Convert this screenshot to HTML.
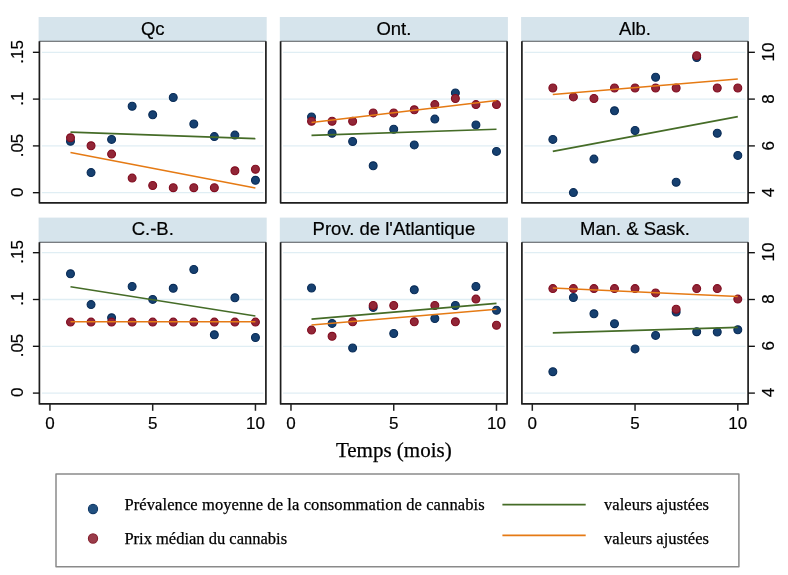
<!DOCTYPE html><html><head><meta charset="utf-8"><style>html,body{margin:0;padding:0;background:#fff;overflow:hidden;width:788px;height:575px}svg{display:block;will-change:transform}</style></head><body>
<svg width="788" height="575" viewBox="0 0 788 575">
<rect x="0" y="0" width="788" height="575" fill="#fff"/>
<rect x="38.6" y="17.0" width="228.1" height="24.2" fill="#d6e4ec"/>
<text x="152.7" y="34.6" font-family="Liberation Sans, sans-serif" font-size="18.5" stroke="#000" stroke-width="0.2" text-anchor="middle" fill="#000">Qc</text>
<line x1="41.9" x2="263.4" y1="52.3" y2="52.3" stroke="#e0eef4" stroke-width="1.3"/>
<line x1="41.9" x2="263.4" y1="99.1" y2="99.1" stroke="#e0eef4" stroke-width="1.3"/>
<line x1="41.9" x2="263.4" y1="145.9" y2="145.9" stroke="#e0eef4" stroke-width="1.3"/>
<line x1="41.9" x2="263.4" y1="192.7" y2="192.7" stroke="#e0eef4" stroke-width="1.3"/>
<circle cx="70.50" cy="141.2" r="3.95" fill="#164070" stroke="#092b56" stroke-width="1.1"/>
<circle cx="91.05" cy="172.6" r="3.95" fill="#164070" stroke="#092b56" stroke-width="1.1"/>
<circle cx="111.60" cy="139.4" r="3.95" fill="#164070" stroke="#092b56" stroke-width="1.1"/>
<circle cx="132.15" cy="106.2" r="3.95" fill="#164070" stroke="#092b56" stroke-width="1.1"/>
<circle cx="152.70" cy="114.8" r="3.95" fill="#164070" stroke="#092b56" stroke-width="1.1"/>
<circle cx="173.25" cy="97.5" r="3.95" fill="#164070" stroke="#092b56" stroke-width="1.1"/>
<circle cx="193.80" cy="124.0" r="3.95" fill="#164070" stroke="#092b56" stroke-width="1.1"/>
<circle cx="214.35" cy="136.6" r="3.95" fill="#164070" stroke="#092b56" stroke-width="1.1"/>
<circle cx="234.90" cy="135.1" r="3.95" fill="#164070" stroke="#092b56" stroke-width="1.1"/>
<circle cx="255.45" cy="180.3" r="3.95" fill="#164070" stroke="#092b56" stroke-width="1.1"/>
<circle cx="70.50" cy="137.8" r="3.95" fill="#922637" stroke="#800c1f" stroke-width="1.1"/>
<circle cx="91.05" cy="145.8" r="3.95" fill="#922637" stroke="#800c1f" stroke-width="1.1"/>
<circle cx="111.60" cy="154.1" r="3.95" fill="#922637" stroke="#800c1f" stroke-width="1.1"/>
<circle cx="132.15" cy="178.1" r="3.95" fill="#922637" stroke="#800c1f" stroke-width="1.1"/>
<circle cx="152.70" cy="185.5" r="3.95" fill="#922637" stroke="#800c1f" stroke-width="1.1"/>
<circle cx="173.25" cy="187.7" r="3.95" fill="#922637" stroke="#800c1f" stroke-width="1.1"/>
<circle cx="193.80" cy="187.7" r="3.95" fill="#922637" stroke="#800c1f" stroke-width="1.1"/>
<circle cx="214.35" cy="187.7" r="3.95" fill="#922637" stroke="#800c1f" stroke-width="1.1"/>
<circle cx="234.90" cy="170.8" r="3.95" fill="#922637" stroke="#800c1f" stroke-width="1.1"/>
<circle cx="255.45" cy="169.2" r="3.95" fill="#922637" stroke="#800c1f" stroke-width="1.1"/>
<line x1="70.5" y1="132.1" x2="255.4" y2="138.6" stroke="#456c27" stroke-width="1.65"/>
<line x1="70.5" y1="152.6" x2="255.4" y2="188.0" stroke="#e57a14" stroke-width="1.5"/>
<line x1="39.40" x2="265.90" y1="41.20" y2="41.20" stroke="#505458" stroke-width="1.1"/>
<path d="M39.40 41.20 L39.40 202.80 L265.90 202.80 L265.90 41.20" fill="none" stroke="#1e1e1e" stroke-width="1.7" stroke-linejoin="round"/>
<line x1="32.9" x2="39.4" y1="52.3" y2="52.3" stroke="#111" stroke-width="1.35"/>
<text transform="translate(22.8 51.9) rotate(-90)" font-family="Liberation Sans, sans-serif" font-size="17" stroke="#000" stroke-width="0.2" text-anchor="middle" fill="#000">.15</text>
<line x1="32.9" x2="39.4" y1="99.1" y2="99.1" stroke="#111" stroke-width="1.35"/>
<text transform="translate(22.8 98.7) rotate(-90)" font-family="Liberation Sans, sans-serif" font-size="17" stroke="#000" stroke-width="0.2" text-anchor="middle" fill="#000">.1</text>
<line x1="32.9" x2="39.4" y1="145.9" y2="145.9" stroke="#111" stroke-width="1.35"/>
<text transform="translate(22.8 145.5) rotate(-90)" font-family="Liberation Sans, sans-serif" font-size="17" stroke="#000" stroke-width="0.2" text-anchor="middle" fill="#000">.05</text>
<line x1="32.9" x2="39.4" y1="192.7" y2="192.7" stroke="#111" stroke-width="1.35"/>
<text transform="translate(22.8 192.3) rotate(-90)" font-family="Liberation Sans, sans-serif" font-size="17" stroke="#000" stroke-width="0.2" text-anchor="middle" fill="#000">0</text>
<rect x="279.8" y="17.0" width="228.1" height="24.2" fill="#d6e4ec"/>
<text x="393.9" y="34.6" font-family="Liberation Sans, sans-serif" font-size="18.5" stroke="#000" stroke-width="0.2" text-anchor="middle" fill="#000">Ont.</text>
<line x1="283.1" x2="504.6" y1="52.3" y2="52.3" stroke="#e0eef4" stroke-width="1.3"/>
<line x1="283.1" x2="504.6" y1="99.1" y2="99.1" stroke="#e0eef4" stroke-width="1.3"/>
<line x1="283.1" x2="504.6" y1="145.9" y2="145.9" stroke="#e0eef4" stroke-width="1.3"/>
<line x1="283.1" x2="504.6" y1="192.7" y2="192.7" stroke="#e0eef4" stroke-width="1.3"/>
<circle cx="311.53" cy="116.9" r="3.95" fill="#164070" stroke="#092b56" stroke-width="1.1"/>
<circle cx="332.08" cy="133.2" r="3.95" fill="#164070" stroke="#092b56" stroke-width="1.1"/>
<circle cx="352.63" cy="141.5" r="3.95" fill="#164070" stroke="#092b56" stroke-width="1.1"/>
<circle cx="373.18" cy="165.8" r="3.95" fill="#164070" stroke="#092b56" stroke-width="1.1"/>
<circle cx="393.73" cy="129.2" r="3.95" fill="#164070" stroke="#092b56" stroke-width="1.1"/>
<circle cx="414.28" cy="144.9" r="3.95" fill="#164070" stroke="#092b56" stroke-width="1.1"/>
<circle cx="434.83" cy="119.1" r="3.95" fill="#164070" stroke="#092b56" stroke-width="1.1"/>
<circle cx="455.38" cy="92.9" r="3.95" fill="#164070" stroke="#092b56" stroke-width="1.1"/>
<circle cx="475.93" cy="124.9" r="3.95" fill="#164070" stroke="#092b56" stroke-width="1.1"/>
<circle cx="496.48" cy="151.4" r="3.95" fill="#164070" stroke="#092b56" stroke-width="1.1"/>
<circle cx="311.53" cy="121.2" r="3.95" fill="#922637" stroke="#800c1f" stroke-width="1.1"/>
<circle cx="332.08" cy="121.2" r="3.95" fill="#922637" stroke="#800c1f" stroke-width="1.1"/>
<circle cx="352.63" cy="121.2" r="3.95" fill="#922637" stroke="#800c1f" stroke-width="1.1"/>
<circle cx="373.18" cy="112.9" r="3.95" fill="#922637" stroke="#800c1f" stroke-width="1.1"/>
<circle cx="393.73" cy="112.9" r="3.95" fill="#922637" stroke="#800c1f" stroke-width="1.1"/>
<circle cx="414.28" cy="109.8" r="3.95" fill="#922637" stroke="#800c1f" stroke-width="1.1"/>
<circle cx="434.83" cy="104.6" r="3.95" fill="#922637" stroke="#800c1f" stroke-width="1.1"/>
<circle cx="455.38" cy="98.5" r="3.95" fill="#922637" stroke="#800c1f" stroke-width="1.1"/>
<circle cx="475.93" cy="104.6" r="3.95" fill="#922637" stroke="#800c1f" stroke-width="1.1"/>
<circle cx="496.48" cy="104.6" r="3.95" fill="#922637" stroke="#800c1f" stroke-width="1.1"/>
<line x1="311.5" y1="135.4" x2="496.5" y2="129.2" stroke="#456c27" stroke-width="1.65"/>
<line x1="311.5" y1="122.4" x2="496.5" y2="100.4" stroke="#e57a14" stroke-width="1.5"/>
<line x1="280.60" x2="507.10" y1="41.20" y2="41.20" stroke="#505458" stroke-width="1.1"/>
<path d="M280.60 41.20 L280.60 202.80 L507.10 202.80 L507.10 41.20" fill="none" stroke="#1e1e1e" stroke-width="1.7" stroke-linejoin="round"/>
<rect x="521.1" y="17.0" width="227.8" height="24.2" fill="#d6e4ec"/>
<text x="635.0" y="34.6" font-family="Liberation Sans, sans-serif" font-size="18.5" stroke="#000" stroke-width="0.2" text-anchor="middle" fill="#000">Alb.</text>
<line x1="524.4" x2="745.6" y1="52.3" y2="52.3" stroke="#e0eef4" stroke-width="1.3"/>
<line x1="524.4" x2="745.6" y1="99.1" y2="99.1" stroke="#e0eef4" stroke-width="1.3"/>
<line x1="524.4" x2="745.6" y1="145.9" y2="145.9" stroke="#e0eef4" stroke-width="1.3"/>
<line x1="524.4" x2="745.6" y1="192.7" y2="192.7" stroke="#e0eef4" stroke-width="1.3"/>
<circle cx="552.85" cy="139.4" r="3.95" fill="#164070" stroke="#092b56" stroke-width="1.1"/>
<circle cx="573.40" cy="192.6" r="3.95" fill="#164070" stroke="#092b56" stroke-width="1.1"/>
<circle cx="593.95" cy="159.1" r="3.95" fill="#164070" stroke="#092b56" stroke-width="1.1"/>
<circle cx="614.50" cy="110.8" r="3.95" fill="#164070" stroke="#092b56" stroke-width="1.1"/>
<circle cx="635.05" cy="130.5" r="3.95" fill="#164070" stroke="#092b56" stroke-width="1.1"/>
<circle cx="655.60" cy="77.2" r="3.95" fill="#164070" stroke="#092b56" stroke-width="1.1"/>
<circle cx="676.15" cy="182.2" r="3.95" fill="#164070" stroke="#092b56" stroke-width="1.1"/>
<circle cx="696.70" cy="57.5" r="3.95" fill="#164070" stroke="#092b56" stroke-width="1.1"/>
<circle cx="717.25" cy="133.2" r="3.95" fill="#164070" stroke="#092b56" stroke-width="1.1"/>
<circle cx="737.80" cy="155.4" r="3.95" fill="#164070" stroke="#092b56" stroke-width="1.1"/>
<circle cx="552.85" cy="88.0" r="3.95" fill="#922637" stroke="#800c1f" stroke-width="1.1"/>
<circle cx="573.40" cy="96.9" r="3.95" fill="#922637" stroke="#800c1f" stroke-width="1.1"/>
<circle cx="593.95" cy="98.5" r="3.95" fill="#922637" stroke="#800c1f" stroke-width="1.1"/>
<circle cx="614.50" cy="88.0" r="3.95" fill="#922637" stroke="#800c1f" stroke-width="1.1"/>
<circle cx="635.05" cy="88.0" r="3.95" fill="#922637" stroke="#800c1f" stroke-width="1.1"/>
<circle cx="655.60" cy="88.0" r="3.95" fill="#922637" stroke="#800c1f" stroke-width="1.1"/>
<circle cx="676.15" cy="88.0" r="3.95" fill="#922637" stroke="#800c1f" stroke-width="1.1"/>
<circle cx="696.70" cy="55.7" r="3.95" fill="#922637" stroke="#800c1f" stroke-width="1.1"/>
<circle cx="717.25" cy="88.0" r="3.95" fill="#922637" stroke="#800c1f" stroke-width="1.1"/>
<circle cx="737.80" cy="88.0" r="3.95" fill="#922637" stroke="#800c1f" stroke-width="1.1"/>
<line x1="552.8" y1="151.4" x2="737.8" y2="116.6" stroke="#456c27" stroke-width="1.65"/>
<line x1="552.8" y1="94.5" x2="737.8" y2="79.1" stroke="#e57a14" stroke-width="1.5"/>
<line x1="521.90" x2="748.10" y1="41.20" y2="41.20" stroke="#505458" stroke-width="1.1"/>
<path d="M521.90 41.20 L521.90 202.80 L748.10 202.80 L748.10 41.20" fill="none" stroke="#1e1e1e" stroke-width="1.7" stroke-linejoin="round"/>
<line x1="748.1" x2="754.9" y1="52.3" y2="52.3" stroke="#111" stroke-width="1.35"/>
<text transform="translate(773.8 52.1) rotate(-90)" font-family="Liberation Sans, sans-serif" font-size="17" stroke="#000" stroke-width="0.2" text-anchor="middle" fill="#000">10</text>
<line x1="748.1" x2="754.9" y1="99.1" y2="99.1" stroke="#111" stroke-width="1.35"/>
<text transform="translate(773.8 98.9) rotate(-90)" font-family="Liberation Sans, sans-serif" font-size="17" stroke="#000" stroke-width="0.2" text-anchor="middle" fill="#000">8</text>
<line x1="748.1" x2="754.9" y1="145.9" y2="145.9" stroke="#111" stroke-width="1.35"/>
<text transform="translate(773.8 145.7) rotate(-90)" font-family="Liberation Sans, sans-serif" font-size="17" stroke="#000" stroke-width="0.2" text-anchor="middle" fill="#000">6</text>
<line x1="748.1" x2="754.9" y1="192.7" y2="192.7" stroke="#111" stroke-width="1.35"/>
<text transform="translate(773.8 192.5) rotate(-90)" font-family="Liberation Sans, sans-serif" font-size="17" stroke="#000" stroke-width="0.2" text-anchor="middle" fill="#000">4</text>
<rect x="38.6" y="217.6" width="228.1" height="24.7" fill="#d6e4ec"/>
<text x="152.7" y="235.2" font-family="Liberation Sans, sans-serif" font-size="18.5" stroke="#000" stroke-width="0.2" text-anchor="middle" fill="#000">C.-B.</text>
<line x1="41.9" x2="263.4" y1="252.7" y2="252.7" stroke="#e0eef4" stroke-width="1.3"/>
<line x1="41.9" x2="263.4" y1="299.5" y2="299.5" stroke="#e0eef4" stroke-width="1.3"/>
<line x1="41.9" x2="263.4" y1="346.3" y2="346.3" stroke="#e0eef4" stroke-width="1.3"/>
<line x1="41.9" x2="263.4" y1="393.1" y2="393.1" stroke="#e0eef4" stroke-width="1.3"/>
<circle cx="70.50" cy="273.8" r="3.95" fill="#164070" stroke="#092b56" stroke-width="1.1"/>
<circle cx="91.05" cy="304.6" r="3.95" fill="#164070" stroke="#092b56" stroke-width="1.1"/>
<circle cx="111.60" cy="317.8" r="3.95" fill="#164070" stroke="#092b56" stroke-width="1.1"/>
<circle cx="132.15" cy="286.5" r="3.95" fill="#164070" stroke="#092b56" stroke-width="1.1"/>
<circle cx="152.70" cy="299.4" r="3.95" fill="#164070" stroke="#092b56" stroke-width="1.1"/>
<circle cx="173.25" cy="288.3" r="3.95" fill="#164070" stroke="#092b56" stroke-width="1.1"/>
<circle cx="193.80" cy="269.5" r="3.95" fill="#164070" stroke="#092b56" stroke-width="1.1"/>
<circle cx="214.35" cy="334.8" r="3.95" fill="#164070" stroke="#092b56" stroke-width="1.1"/>
<circle cx="234.90" cy="297.8" r="3.95" fill="#164070" stroke="#092b56" stroke-width="1.1"/>
<circle cx="255.45" cy="337.5" r="3.95" fill="#164070" stroke="#092b56" stroke-width="1.1"/>
<circle cx="70.50" cy="322.1" r="3.95" fill="#922637" stroke="#800c1f" stroke-width="1.1"/>
<circle cx="91.05" cy="322.1" r="3.95" fill="#922637" stroke="#800c1f" stroke-width="1.1"/>
<circle cx="111.60" cy="322.1" r="3.95" fill="#922637" stroke="#800c1f" stroke-width="1.1"/>
<circle cx="132.15" cy="322.1" r="3.95" fill="#922637" stroke="#800c1f" stroke-width="1.1"/>
<circle cx="152.70" cy="322.1" r="3.95" fill="#922637" stroke="#800c1f" stroke-width="1.1"/>
<circle cx="173.25" cy="322.1" r="3.95" fill="#922637" stroke="#800c1f" stroke-width="1.1"/>
<circle cx="193.80" cy="322.1" r="3.95" fill="#922637" stroke="#800c1f" stroke-width="1.1"/>
<circle cx="214.35" cy="322.1" r="3.95" fill="#922637" stroke="#800c1f" stroke-width="1.1"/>
<circle cx="234.90" cy="322.1" r="3.95" fill="#922637" stroke="#800c1f" stroke-width="1.1"/>
<circle cx="255.45" cy="322.1" r="3.95" fill="#922637" stroke="#800c1f" stroke-width="1.1"/>
<line x1="70.5" y1="286.8" x2="255.4" y2="316.0" stroke="#456c27" stroke-width="1.65"/>
<line x1="70.5" y1="321.8" x2="255.4" y2="321.8" stroke="#e57a14" stroke-width="1.5"/>
<line x1="39.40" x2="265.90" y1="242.30" y2="242.30" stroke="#505458" stroke-width="1.1"/>
<path d="M39.40 242.30 L39.40 403.90 L265.90 403.90 L265.90 242.30" fill="none" stroke="#1e1e1e" stroke-width="1.7" stroke-linejoin="round"/>
<line x1="32.9" x2="39.4" y1="252.7" y2="252.7" stroke="#111" stroke-width="1.35"/>
<text transform="translate(22.8 251.9) rotate(-90)" font-family="Liberation Sans, sans-serif" font-size="17" stroke="#000" stroke-width="0.2" text-anchor="middle" fill="#000">.15</text>
<line x1="32.9" x2="39.4" y1="299.5" y2="299.5" stroke="#111" stroke-width="1.35"/>
<text transform="translate(22.8 298.7) rotate(-90)" font-family="Liberation Sans, sans-serif" font-size="17" stroke="#000" stroke-width="0.2" text-anchor="middle" fill="#000">.1</text>
<line x1="32.9" x2="39.4" y1="346.3" y2="346.3" stroke="#111" stroke-width="1.35"/>
<text transform="translate(22.8 345.5) rotate(-90)" font-family="Liberation Sans, sans-serif" font-size="17" stroke="#000" stroke-width="0.2" text-anchor="middle" fill="#000">.05</text>
<line x1="32.9" x2="39.4" y1="393.1" y2="393.1" stroke="#111" stroke-width="1.35"/>
<text transform="translate(22.8 392.3) rotate(-90)" font-family="Liberation Sans, sans-serif" font-size="17" stroke="#000" stroke-width="0.2" text-anchor="middle" fill="#000">0</text>
<line x1="49.95" x2="49.95" y1="403.9" y2="410.8" stroke="#222" stroke-width="1.5"/>
<text x="50.0" y="429.3" font-family="Liberation Sans, sans-serif" font-size="17" stroke="#000" stroke-width="0.2" text-anchor="middle" fill="#000">0</text>
<line x1="152.70" x2="152.70" y1="403.9" y2="410.8" stroke="#222" stroke-width="1.5"/>
<text x="152.7" y="429.3" font-family="Liberation Sans, sans-serif" font-size="17" stroke="#000" stroke-width="0.2" text-anchor="middle" fill="#000">5</text>
<line x1="255.45" x2="255.45" y1="403.9" y2="410.8" stroke="#222" stroke-width="1.5"/>
<text x="255.4" y="429.3" font-family="Liberation Sans, sans-serif" font-size="17" stroke="#000" stroke-width="0.2" text-anchor="middle" fill="#000">10</text>
<rect x="279.8" y="217.6" width="228.1" height="24.7" fill="#d6e4ec"/>
<text x="393.9" y="235.2" font-family="Liberation Sans, sans-serif" font-size="18.5" stroke="#000" stroke-width="0.2" text-anchor="middle" fill="#000">Prov. de l'Atlantique</text>
<line x1="283.1" x2="504.6" y1="252.7" y2="252.7" stroke="#e0eef4" stroke-width="1.3"/>
<line x1="283.1" x2="504.6" y1="299.5" y2="299.5" stroke="#e0eef4" stroke-width="1.3"/>
<line x1="283.1" x2="504.6" y1="346.3" y2="346.3" stroke="#e0eef4" stroke-width="1.3"/>
<line x1="283.1" x2="504.6" y1="393.1" y2="393.1" stroke="#e0eef4" stroke-width="1.3"/>
<circle cx="311.53" cy="288.0" r="3.95" fill="#164070" stroke="#092b56" stroke-width="1.1"/>
<circle cx="332.08" cy="323.4" r="3.95" fill="#164070" stroke="#092b56" stroke-width="1.1"/>
<circle cx="352.63" cy="348.0" r="3.95" fill="#164070" stroke="#092b56" stroke-width="1.1"/>
<circle cx="373.18" cy="307.4" r="3.95" fill="#164070" stroke="#092b56" stroke-width="1.1"/>
<circle cx="393.73" cy="333.5" r="3.95" fill="#164070" stroke="#092b56" stroke-width="1.1"/>
<circle cx="414.28" cy="289.8" r="3.95" fill="#164070" stroke="#092b56" stroke-width="1.1"/>
<circle cx="434.83" cy="318.5" r="3.95" fill="#164070" stroke="#092b56" stroke-width="1.1"/>
<circle cx="455.38" cy="305.5" r="3.95" fill="#164070" stroke="#092b56" stroke-width="1.1"/>
<circle cx="475.93" cy="286.5" r="3.95" fill="#164070" stroke="#092b56" stroke-width="1.1"/>
<circle cx="496.48" cy="310.2" r="3.95" fill="#164070" stroke="#092b56" stroke-width="1.1"/>
<circle cx="311.53" cy="330.1" r="3.95" fill="#922637" stroke="#800c1f" stroke-width="1.1"/>
<circle cx="332.08" cy="336.3" r="3.95" fill="#922637" stroke="#800c1f" stroke-width="1.1"/>
<circle cx="352.63" cy="321.8" r="3.95" fill="#922637" stroke="#800c1f" stroke-width="1.1"/>
<circle cx="373.18" cy="305.5" r="3.95" fill="#922637" stroke="#800c1f" stroke-width="1.1"/>
<circle cx="393.73" cy="305.5" r="3.95" fill="#922637" stroke="#800c1f" stroke-width="1.1"/>
<circle cx="414.28" cy="321.8" r="3.95" fill="#922637" stroke="#800c1f" stroke-width="1.1"/>
<circle cx="434.83" cy="305.5" r="3.95" fill="#922637" stroke="#800c1f" stroke-width="1.1"/>
<circle cx="455.38" cy="321.8" r="3.95" fill="#922637" stroke="#800c1f" stroke-width="1.1"/>
<circle cx="475.93" cy="299.1" r="3.95" fill="#922637" stroke="#800c1f" stroke-width="1.1"/>
<circle cx="496.48" cy="325.2" r="3.95" fill="#922637" stroke="#800c1f" stroke-width="1.1"/>
<line x1="311.5" y1="319.1" x2="496.5" y2="303.4" stroke="#456c27" stroke-width="1.65"/>
<line x1="311.5" y1="324.9" x2="496.5" y2="309.2" stroke="#e57a14" stroke-width="1.5"/>
<line x1="280.60" x2="507.10" y1="242.30" y2="242.30" stroke="#505458" stroke-width="1.1"/>
<path d="M280.60 242.30 L280.60 403.90 L507.10 403.90 L507.10 242.30" fill="none" stroke="#1e1e1e" stroke-width="1.7" stroke-linejoin="round"/>
<line x1="290.98" x2="290.98" y1="403.9" y2="410.8" stroke="#222" stroke-width="1.5"/>
<text x="291.0" y="429.3" font-family="Liberation Sans, sans-serif" font-size="17" stroke="#000" stroke-width="0.2" text-anchor="middle" fill="#000">0</text>
<line x1="393.73" x2="393.73" y1="403.9" y2="410.8" stroke="#222" stroke-width="1.5"/>
<text x="393.7" y="429.3" font-family="Liberation Sans, sans-serif" font-size="17" stroke="#000" stroke-width="0.2" text-anchor="middle" fill="#000">5</text>
<line x1="496.48" x2="496.48" y1="403.9" y2="410.8" stroke="#222" stroke-width="1.5"/>
<text x="496.5" y="429.3" font-family="Liberation Sans, sans-serif" font-size="17" stroke="#000" stroke-width="0.2" text-anchor="middle" fill="#000">10</text>
<rect x="521.1" y="217.6" width="227.8" height="24.7" fill="#d6e4ec"/>
<text x="635.0" y="235.2" font-family="Liberation Sans, sans-serif" font-size="18.5" stroke="#000" stroke-width="0.2" text-anchor="middle" fill="#000">Man. &amp; Sask.</text>
<line x1="524.4" x2="745.6" y1="252.7" y2="252.7" stroke="#e0eef4" stroke-width="1.3"/>
<line x1="524.4" x2="745.6" y1="299.5" y2="299.5" stroke="#e0eef4" stroke-width="1.3"/>
<line x1="524.4" x2="745.6" y1="346.3" y2="346.3" stroke="#e0eef4" stroke-width="1.3"/>
<line x1="524.4" x2="745.6" y1="393.1" y2="393.1" stroke="#e0eef4" stroke-width="1.3"/>
<circle cx="552.85" cy="371.7" r="3.95" fill="#164070" stroke="#092b56" stroke-width="1.1"/>
<circle cx="573.40" cy="297.5" r="3.95" fill="#164070" stroke="#092b56" stroke-width="1.1"/>
<circle cx="593.95" cy="313.8" r="3.95" fill="#164070" stroke="#092b56" stroke-width="1.1"/>
<circle cx="614.50" cy="323.7" r="3.95" fill="#164070" stroke="#092b56" stroke-width="1.1"/>
<circle cx="635.05" cy="348.9" r="3.95" fill="#164070" stroke="#092b56" stroke-width="1.1"/>
<circle cx="655.60" cy="335.4" r="3.95" fill="#164070" stroke="#092b56" stroke-width="1.1"/>
<circle cx="676.15" cy="312.0" r="3.95" fill="#164070" stroke="#092b56" stroke-width="1.1"/>
<circle cx="696.70" cy="331.7" r="3.95" fill="#164070" stroke="#092b56" stroke-width="1.1"/>
<circle cx="717.25" cy="332.0" r="3.95" fill="#164070" stroke="#092b56" stroke-width="1.1"/>
<circle cx="737.80" cy="329.8" r="3.95" fill="#164070" stroke="#092b56" stroke-width="1.1"/>
<circle cx="552.85" cy="288.6" r="3.95" fill="#922637" stroke="#800c1f" stroke-width="1.1"/>
<circle cx="573.40" cy="288.6" r="3.95" fill="#922637" stroke="#800c1f" stroke-width="1.1"/>
<circle cx="593.95" cy="288.6" r="3.95" fill="#922637" stroke="#800c1f" stroke-width="1.1"/>
<circle cx="614.50" cy="288.6" r="3.95" fill="#922637" stroke="#800c1f" stroke-width="1.1"/>
<circle cx="635.05" cy="288.6" r="3.95" fill="#922637" stroke="#800c1f" stroke-width="1.1"/>
<circle cx="655.60" cy="292.9" r="3.95" fill="#922637" stroke="#800c1f" stroke-width="1.1"/>
<circle cx="676.15" cy="309.2" r="3.95" fill="#922637" stroke="#800c1f" stroke-width="1.1"/>
<circle cx="696.70" cy="288.6" r="3.95" fill="#922637" stroke="#800c1f" stroke-width="1.1"/>
<circle cx="717.25" cy="288.6" r="3.95" fill="#922637" stroke="#800c1f" stroke-width="1.1"/>
<circle cx="737.80" cy="299.1" r="3.95" fill="#922637" stroke="#800c1f" stroke-width="1.1"/>
<line x1="552.8" y1="332.9" x2="737.8" y2="327.4" stroke="#456c27" stroke-width="1.65"/>
<line x1="552.8" y1="288.0" x2="737.8" y2="296.6" stroke="#e57a14" stroke-width="1.5"/>
<line x1="521.90" x2="748.10" y1="242.30" y2="242.30" stroke="#505458" stroke-width="1.1"/>
<path d="M521.90 242.30 L521.90 403.90 L748.10 403.90 L748.10 242.30" fill="none" stroke="#1e1e1e" stroke-width="1.7" stroke-linejoin="round"/>
<line x1="748.1" x2="754.9" y1="252.7" y2="252.7" stroke="#111" stroke-width="1.35"/>
<text transform="translate(773.8 252.1) rotate(-90)" font-family="Liberation Sans, sans-serif" font-size="17" stroke="#000" stroke-width="0.2" text-anchor="middle" fill="#000">10</text>
<line x1="748.1" x2="754.9" y1="299.5" y2="299.5" stroke="#111" stroke-width="1.35"/>
<text transform="translate(773.8 298.9) rotate(-90)" font-family="Liberation Sans, sans-serif" font-size="17" stroke="#000" stroke-width="0.2" text-anchor="middle" fill="#000">8</text>
<line x1="748.1" x2="754.9" y1="346.3" y2="346.3" stroke="#111" stroke-width="1.35"/>
<text transform="translate(773.8 345.7) rotate(-90)" font-family="Liberation Sans, sans-serif" font-size="17" stroke="#000" stroke-width="0.2" text-anchor="middle" fill="#000">6</text>
<line x1="748.1" x2="754.9" y1="393.1" y2="393.1" stroke="#111" stroke-width="1.35"/>
<text transform="translate(773.8 392.5) rotate(-90)" font-family="Liberation Sans, sans-serif" font-size="17" stroke="#000" stroke-width="0.2" text-anchor="middle" fill="#000">4</text>
<line x1="532.30" x2="532.30" y1="403.9" y2="410.8" stroke="#222" stroke-width="1.5"/>
<text x="532.3" y="429.3" font-family="Liberation Sans, sans-serif" font-size="17" stroke="#000" stroke-width="0.2" text-anchor="middle" fill="#000">0</text>
<line x1="635.05" x2="635.05" y1="403.9" y2="410.8" stroke="#222" stroke-width="1.5"/>
<text x="635.0" y="429.3" font-family="Liberation Sans, sans-serif" font-size="17" stroke="#000" stroke-width="0.2" text-anchor="middle" fill="#000">5</text>
<line x1="737.80" x2="737.80" y1="403.9" y2="410.8" stroke="#222" stroke-width="1.5"/>
<text x="737.8" y="429.3" font-family="Liberation Sans, sans-serif" font-size="17" stroke="#000" stroke-width="0.2" text-anchor="middle" fill="#000">10</text>
<text x="393.8" y="457" font-family="Liberation Serif, serif" font-size="21" stroke="#000" stroke-width="0.25" text-anchor="middle" fill="#000">Temps (mois)</text>
<rect x="56" y="474" width="682.9" height="92.7" fill="none" stroke="#8a8a8a" stroke-width="1.5" stroke-linejoin="round"/>
<circle cx="93" cy="509" r="4.6" fill="#215080" stroke="#123a68" stroke-width="1.1"/>
<circle cx="93" cy="538.5" r="4.6" fill="#9a3c4a" stroke="#86202f" stroke-width="1.1"/>
<text x="124.4" y="510.2" font-family="Liberation Serif, serif" font-size="16.5" stroke="#000" stroke-width="0.25" textLength="360.2" lengthAdjust="spacing" fill="#000">Prévalence moyenne de la consommation de cannabis</text>
<text x="124.4" y="544.1" font-family="Liberation Serif, serif" font-size="16.5" stroke="#000" stroke-width="0.25" fill="#000">Prix médian du cannabis</text>
<line x1="502.4" x2="585.7" y1="504.7" y2="504.7" stroke="#456c27" stroke-width="1.8"/>
<line x1="502.4" x2="585.7" y1="535.4" y2="535.4" stroke="#e57a14" stroke-width="1.8"/>
<text x="604.0" y="510.4" font-family="Liberation Serif, serif" font-size="16.5" stroke="#000" stroke-width="0.25" textLength="105" lengthAdjust="spacing" fill="#000">valeurs ajustées</text>
<text x="604.0" y="544.2" font-family="Liberation Serif, serif" font-size="16.5" stroke="#000" stroke-width="0.25" textLength="105" lengthAdjust="spacing" fill="#000">valeurs ajustées</text>
</svg></body></html>
